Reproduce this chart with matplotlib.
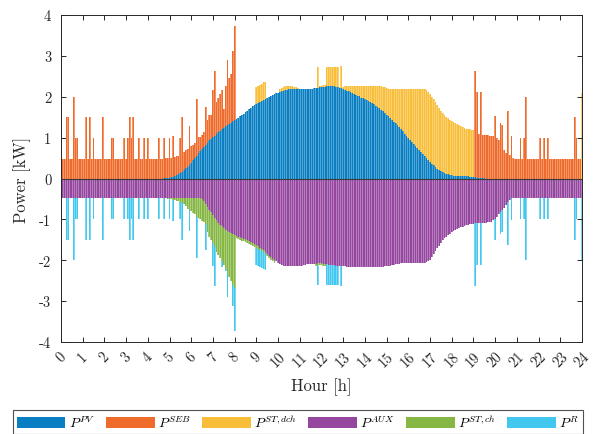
import numpy as np
import matplotlib
matplotlib.use("Agg")
import matplotlib.pyplot as plt
from matplotlib.patches import Patch
from matplotlib.colors import to_rgb

# ---------------- data (5-minute steps, 0 h ... 24 h) ----------------
n_steps_per_hour = 12
hour_ticks = list(range(25))

P_PV = [
    0,0,0,0,0,0,0,0,0,0,0,0,
    0,0,0,0,0,0,0,0,0,0,0,0,
    0,0,0,0,0,0,0,0,0,0,0,0,
    0,0,0,0,0,0,0,0,0,0,0,0,
    0,0,0,0,0,0,0,0,0,0.005,0.01,0.015,
    0.02,0.03,0.045,0.06,0.08,0.11,0.14,0.17,0.21,0.25,0.29,0.34,
    0.39,0.45,0.50,0.56,0.62,0.67,0.72,0.78,0.83,0.88,0.93,0.97,
    1.01,1.05,1.09,1.13,1.17,1.21,1.24,1.28,1.31,1.34,1.37,1.40,
    1.43,1.46,1.49,1.52,1.56,1.59,1.63,1.66,1.70,1.73,1.77,1.80,
    1.82,1.85,1.87,1.90,1.92,1.95,1.97,2.00,2.02,2.04,2.06,2.08,
    2.10,2.12,2.14,2.15,2.16,2.17,2.18,2.18,2.19,2.19,2.19,2.19,
    2.19,2.19,2.19,2.19,2.19,2.19,2.19,2.20,2.21,2.22,2.22,2.23,
    2.24,2.25,2.25,2.26,2.26,2.26,2.26,2.26,2.25,2.24,2.22,2.21,
    2.19,2.17,2.15,2.13,2.11,2.09,2.07,2.05,2.03,2.01,1.98,1.96,
    1.94,1.92,1.90,1.88,1.85,1.82,1.78,1.75,1.72,1.68,1.64,1.60,
    1.56,1.52,1.48,1.44,1.39,1.35,1.30,1.25,1.20,1.15,1.10,1.05,
    1.00,0.95,0.90,0.85,0.80,0.75,0.70,0.65,0.60,0.55,0.50,0.45,
    0.40,0.36,0.32,0.28,0.24,0.21,0.18,0.16,0.14,0.12,0.10,0.09,
    0.08,0.07,0.07,0.06,0.06,0.06,0.05,0.05,0.05,0.05,0.04,0.04,
    0.03,0.03,0.02,0.02,0.01,0.01,0.005,0,0,0,0,0,
    0,0,0,0,0,0,0,0,0,0,0,0,
    0,0,0,0,0,0,0,0,0,0,0,0,
    0,0,0,0,0,0,0,0,0,0,0,0,
    0,0,0,0,0,0,0,0,0,0,0,0,
    0,
]

P_SEB = [
    0.47,0.47,0.47,1.5,1.5,0.47,0.47,2.0,1.0,1.0,0.47,0.47,
    0.47,0.47,1.5,0.47,1.5,0.47,1.0,0.47,0.47,0.47,0.47,1.5,
    0.47,0.47,0.47,0.47,1.0,1.0,0.47,0.47,0.47,0.47,0.47,1.0,
    0.47,1.0,1.5,1.0,1.5,0.47,0.47,1.0,0.47,0.47,1.0,0.47,
    1.0,0.47,0.47,0.47,0.47,0.47,1.0,0.47,0.48,0.995,0.48,0.475,
    0.98,0.47,1.005,0.46,0.46,0.45,0.86,1.33,0.44,0.44,0.44,0.94,
    0.40,0.38,0.36,1.38,0.39,0.34,0.34,0.36,0.91,0.56,0.63,0.59,
    1.15,1.58,0.78,0.84,0.89,0.95,0.45,0.99,1.59,1.13,1.18,1.73,
    2.29,0,0,0,0,0,0,0,0,0,0,0,
    0,0,0,0,0,0,0,0,0,0,0,0,
    0,0,0,0,0,0,0,0,0,0,0,0,
    0,0,0,0,0,0,0,0,0,0,0,0,
    0,0,0,0,0,0,0,0,0,0,0,0,
    0,0,0,0,0,0,0,0,0,0,0,0,
    0,0,0,0,0,0,0,0,0,0,0,0,
    0,0,0,0,0,0,0,0,0,0,0,0,
    0,0,0,0,0,0,0,0,0,0,0,0,
    0,0,0,0,0,0,0,0,0,0,0,0,
    0,0,0,0,0,0,0,0,0,0,0,0,
    0,2.6,2.09,1.06,2.1,1.06,1.06,1.06,1.06,1.05,1.04,1.03,
    1.52,1.0,0.95,1.37,1.31,0.7,0.63,1.64,0.57,1.03,0.5,0.48,
    0.47,0.47,1.0,0.47,1.0,2.0,0.47,0.47,0.47,0.47,0.47,0.47,
    0.47,1.0,0.47,1.0,0.47,1.0,0.47,0.47,0.47,0.47,0.47,0.47,
    0.47,0.47,0.47,0.47,0.47,0.47,0.47,0.47,1.5,1.0,0.47,0.47,
    0,
]

P_ST_dch = [
    0,0,0,0,0,0,0,0,0,0,0,0,
    0,0,0,0,0,0,0,0,0,0,0,0,
    0,0,0,0,0,0,0,0,0,0,0,0,
    0,0,0,0,0,0,0,0,0,0,0,0,
    0,0,0,0,0,0,0,0,0,0,0,0,
    0,0,0,0,0,0,0,0,0,0,0,0,
    0,0,0,0,0,0,0,0,0,0,0,0,
    0,0,0,0,0,0,0,0,0,0,0,0,
    0,0,0,0,0,0,0,0,0,0,0,0,
    0.41,0.41,0.42,0.42,0.43,0.42,0,0,0,0,0,0,
    0,0.08,0.08,0.10,0.11,0.10,0.09,0.09,0.07,0.06,0.05,0.03,
    0,0,0,0,0,0,0,0,0,0,0.51,0.03,
    0.03,0.03,0.03,0.47,0.47,0.47,0.47,0.47,0.48,0.49,0.03,0.54,
    0.06,0.09,0.12,0.14,0.16,0.18,0.20,0.22,0.24,0.26,0.29,0.31,
    0.33,0.35,0.37,0.39,0.42,0.45,0.49,0.52,0.55,0.59,0.61,0.63,
    0.65,0.67,0.71,0.75,0.80,0.84,0.89,0.94,0.99,1.04,1.09,1.14,
    1.19,1.24,1.29,1.34,1.39,1.44,1.49,1.54,1.59,1.64,1.67,1.67,
    1.67,1.64,1.62,1.58,1.55,1.51,1.48,1.44,1.42,1.39,1.37,1.35,
    1.33,1.31,1.28,1.27,1.24,1.22,1.21,1.19,1.17,1.16,1.16,1.15,
    1.15,0,0,0,0,0,0,0,0,0,0,0,
    0,0,0,0,0,0,0,0,0,0,0,0,
    0,0,0,0,0,0,0,0,0,0,0,0,
    0,0,0,0,0,0,0,0,0,0,0,0,
    0,0,0,0,0,0,0,0,0,0,0,0,
    2.1,
]

P_AUX = [
    -0.47,-0.47,-0.47,-0.47,-0.47,-0.47,-0.47,-0.47,-0.47,-0.47,-0.47,-0.47,
    -0.47,-0.47,-0.47,-0.47,-0.47,-0.47,-0.47,-0.47,-0.47,-0.47,-0.47,-0.47,
    -0.47,-0.47,-0.47,-0.47,-0.47,-0.47,-0.47,-0.47,-0.47,-0.47,-0.47,-0.47,
    -0.47,-0.47,-0.47,-0.47,-0.47,-0.47,-0.47,-0.47,-0.47,-0.47,-0.47,-0.47,
    -0.47,-0.47,-0.47,-0.47,-0.47,-0.47,-0.47,-0.47,-0.47,-0.47,-0.47,-0.47,
    -0.47,-0.47,-0.47,-0.47,-0.47,-0.47,-0.47,-0.47,-0.47,-0.47,-0.47,-0.47,
    -0.47,-0.47,-0.47,-0.47,-0.47,-0.47,-0.50,-0.56,-0.62,-0.69,-0.76,-0.83,
    -0.90,-0.96,-1.02,-1.08,-1.13,-1.17,-1.21,-1.25,-1.28,-1.31,-1.33,-1.35,
    -1.38,-1.40,-1.42,-1.44,-1.46,-1.47,-1.49,-1.51,-1.54,-1.56,-1.58,-1.61,
    -1.63,-1.66,-1.69,-1.72,-1.75,-1.79,-1.84,-1.89,-1.93,-1.97,-2.00,-2.03,
    -2.06,-2.09,-2.11,-2.13,-2.14,-2.15,-2.15,-2.15,-2.15,-2.15,-2.14,-2.14,
    -2.14,-2.13,-2.12,-2.11,-2.10,-2.10,-2.10,-2.10,-2.10,-2.08,-2.07,-2.07,
    -2.07,-2.08,-2.09,-2.10,-2.11,-2.11,-2.12,-2.12,-2.13,-2.13,-2.14,-2.14,
    -2.15,-2.15,-2.16,-2.16,-2.17,-2.17,-2.17,-2.17,-2.17,-2.17,-2.17,-2.17,
    -2.17,-2.17,-2.17,-2.17,-2.17,-2.17,-2.17,-2.17,-2.17,-2.17,-2.16,-2.15,
    -2.15,-2.14,-2.13,-2.12,-2.11,-2.10,-2.09,-2.08,-2.07,-2.07,-2.07,-2.07,
    -2.07,-2.07,-2.07,-2.07,-2.07,-2.07,-2.07,-2.07,-2.07,-2.07,-2.05,-2.02,
    -1.99,-1.92,-1.85,-1.78,-1.71,-1.64,-1.57,-1.51,-1.46,-1.42,-1.38,-1.35,
    -1.31,-1.28,-1.26,-1.24,-1.21,-1.19,-1.18,-1.16,-1.14,-1.13,-1.12,-1.11,
    -1.11,-1.10,-1.10,-1.09,-1.09,-1.08,-1.08,-1.08,-1.07,-1.07,-1.06,-1.02,
    -0.98,-0.94,-0.88,-0.83,-0.78,-0.72,-0.65,-0.58,-0.52,-0.48,-0.47,-0.47,
    -0.47,-0.47,-0.47,-0.47,-0.47,-0.47,-0.47,-0.47,-0.47,-0.47,-0.47,-0.47,
    -0.47,-0.47,-0.47,-0.47,-0.47,-0.47,-0.47,-0.47,-0.47,-0.47,-0.47,-0.47,
    -0.47,-0.47,-0.47,-0.47,-0.47,-0.47,-0.47,-0.47,-0.47,-0.47,-0.47,-0.47,
    -0.47,
]

P_ST_ch = [
    0,0,0,0,0,0,0,0,0,0,0,0,
    0,0,0,0,0,0,0,0,0,0,0,0,
    0,0,0,0,0,0,0,0,0,0,0,0,
    0,0,0,0,0,0,0,0,0,0,0,0,
    0,0,0,0,0,0,0,0,0,0,-0.01,-0.02,
    -0.03,-0.04,-0.05,-0.06,-0.07,-0.09,-0.10,-0.13,-0.15,-0.21,-0.27,-0.30,
    -0.33,-0.37,-0.41,-0.47,-0.50,-0.53,-0.54,-0.51,-0.50,-0.61,-0.67,-0.67,
    -0.69,-0.72,-0.77,-0.80,-0.82,-0.86,-0.91,-0.97,-1.02,-1.09,-1.17,-1.25,
    -1.30,-0.06,-0.06,-0.06,-0.06,-0.06,-0.06,-0.06,-0.06,-0.06,-0.06,-0.06,
    -0.06,-0.06,-0.06,-0.06,-0.06,-0.06,-0.06,-0.06,-0.06,-0.06,-0.06,0,
    0,0,0,0,0,0,0,0,0,0,0,0,
    0,0,0,0,0,0,0,0,0,-0.05,-0.05,-0.05,
    -0.05,-0.05,-0.05,0,0,0,0,0,0,0,0,0,
    0,0,0,0,0,0,0,0,0,0,0,0,
    0,0,0,0,0,0,0,0,0,0,0,0,
    0,0,0,0,0,0,0,0,0,0,0,0,
    0,0,0,0,0,0,0,0,0,0,0,0,
    0,0,0,0,0,0,0,0,0,0,0,0,
    0,0,0,0,0,0,0,0,0,0,0,0,
    0,0,0,0,0,0,0,0,0,0,0,0,
    0,0,0,0,0,0,0,0,0,0,0,0,
    0,0,0,0,0,0,0,0,0,0,0,0,
    0,0,0,0,0,0,0,0,0,0,0,0,
    0,0,0,0,0,0,0,0,0,0,0,0,
    0,
]

P_R = [
    0,0,0,-1.03,-1.03,0,0,-1.53,-0.53,-0.53,0,0,
    0,0,-1.03,0,-1.03,0,-0.53,0,0,0,0,-1.03,
    0,0,0,0,-0.53,-0.53,0,0,0,0,0,-0.53,
    0,-0.53,-1.03,-0.53,-1.03,0,0,-0.53,0,0,-0.53,0,
    -0.53,0,0,0,0,0,-0.53,0,0,-0.53,0,0,
    -0.5,0,-0.53,0,0,0,-0.43,-0.91,0,0,0,-0.51,
    0,0,0,-1.0,0,0,0,0,-0.63,0,0,0,
    -0.56,-0.94,0,0,0,-0.13,0,-0.05,-0.6,0,0,-0.53,
    -1.04,0,0,0,0,0,0,0,0,0,0,0,
    -0.42,-0.42,-0.42,-0.41,-0.41,-0.39,0,0,0,0,0,0,
    0,0,0,0,0,0,0,0,0,0,0,0,
    0,0,0,0,0,0,0,0,0,0,-0.48,0,
    0,0,0,-0.5,-0.49,-0.49,-0.48,-0.48,-0.47,-0.47,0,-0.48,
    0,0,0,0,0,0,0,0,0,0,0,0,
    0,0,0,0,0,0,0,0,0,0,0,0,
    0,0,0,0,0,0,0,0,0,0,0,0,
    0,0,0,0,0,0,0,0,0,0,0,0,
    0,0,0,0,0,0,0,0,0,0,0,0,
    0,0,0,0,0,0,0,0,0,0,0,0,
    0,-1.54,-1.01,0,-1.02,0,0,0,0,0,0,0,
    -0.53,0,0,-0.54,-0.53,0,0,-1.05,0,-0.54,0,0,
    0,0,-0.51,0,-0.51,-1.53,0,0,0,0,0,0,
    0,-0.51,0,-0.51,0,-0.51,0,0,0,0,0,0,
    0,0,0,0,0,0,0,0,-1.04,-0.51,0,0,
    -1.52,
]

series_labels = [r"$P^{PV}$", r"$P^{SEB}$", r"$P^{ST,dch}$",
                 r"$P^{AUX}$", r"$P^{ST,ch}$", r"$P^{R}$"]
series_colors = ["#0A7EC2", "#EE6B2C", "#F8BE3A", "#95469F", "#86B745", "#42C7EF"]

# ---------------- style ----------------
plt.rcParams["font.family"] = ["cmr10", "DejaVu Serif"]
plt.rcParams["mathtext.fontset"] = "cm"
plt.rcParams["axes.unicode_minus"] = False
plt.rcParams["axes.formatter.use_mathtext"] = False

t = np.arange(len(P_PV)) / n_steps_per_hour
w_full = 1.0 / n_steps_per_hour
w_core = 0.55 / n_steps_per_hour


def lighten(c, f=0.3):
    rgb = np.array(to_rgb(c))
    return tuple(rgb + (1 - rgb) * f)


pv = np.array(P_PV, float)
seb = np.array(P_SEB, float)
dch = np.array(P_ST_dch, float)
aux = np.array(P_AUX, float)
ch = np.array(P_ST_ch, float)
r = np.array(P_R, float)

fig = plt.figure(figsize=(5.96, 4.35), dpi=100)
ax = fig.add_axes([61 / 596, 1 - 343 / 435, 521 / 596, 327 / 435])

stack = [(pv, 0), (seb, pv), (dch, pv + seb),
         (aux, 0), (ch, aux), (r, aux + ch)]
for (vals, bot), col in zip(stack, series_colors):
    ax.bar(t, vals, bottom=bot, width=w_full, color=lighten(col, 0.3),
           linewidth=0, antialiased=False, zorder=1)
    ax.bar(t, vals, bottom=bot, width=w_core, color=col,
           linewidth=0, zorder=2)
ax.axhline(0, color="#3a3a3a", lw=0.8, zorder=3)

ax.set_xlim(0, 24)
ax.set_ylim(-4, 4)
ax.set_xticks(hour_ticks)
ax.set_xticklabels([str(h) for h in hour_ticks], rotation=45, ha="center",
                   va="top", fontsize=10.5)
yt = [-4, -3, -2, -1, 0, 1, 2, 3, 4]
ax.set_yticks(yt)
ax.set_yticklabels([str(v) for v in yt], fontsize=10.5)
ax.tick_params(direction="in", top=True, right=True, length=3.5, width=0.7,
               colors="#262626")
ax.tick_params(axis="y", pad=7)
ax.tick_params(axis="x", pad=5)
for s in ax.spines.values():
    s.set_color("#262626")
    s.set_linewidth(0.7)

ax.set_xlabel("Hour [h]", fontsize=12, color="#262626", labelpad=6)
ax.set_ylabel("Power [kW]", fontsize=12, color="#262626", labelpad=6)

handles = [Patch(facecolor=c, edgecolor="none") for c in series_colors]
leg = fig.legend(handles, series_labels, ncol=6, loc="center",
                 bbox_to_anchor=(298 / 596, 1 - 423 / 435),
                 frameon=True, fancybox=False, edgecolor="#262626",
                 fontsize=10, handlelength=3.5, handleheight=0.85,
                 handletextpad=0.25, columnspacing=0.8, borderpad=0.3,
                 borderaxespad=0)
leg.get_frame().set_linewidth(0.8)

fig.savefig("out.png", dpi=100)
